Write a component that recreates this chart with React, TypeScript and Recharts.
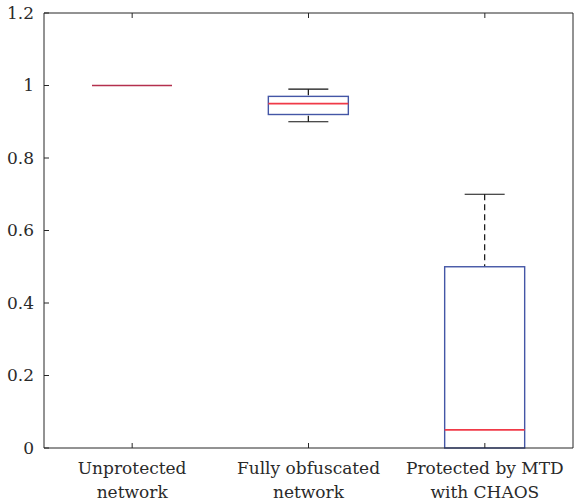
import { ComposedChart, Bar, XAxis, YAxis } from "recharts";

const categories = ["Unprotected\nnetwork", "Fully obfuscated\nnetwork", "Protected by MTD\nwith CHAOS"];
const minValues = [1, 0.9, 0];
const q1Values = [1, 0.92, 0];
const medianValues = [1, 0.95, 0.05];
const q3Values = [1, 0.97, 0.5];
const maxValues = [1, 0.99, 0.7];
const yTicks = [0, 0.2, 0.4, 0.6, 0.8, 1, 1.2];

const FONT = "'DejaVu Serif', serif";
const AXIS = "#262626";
const BLUE = "#4456a6";
const RED = "#f03a48";

const data = categories.map((name, i) => ({
  name,
  min: minValues[i],
  q1: q1Values[i],
  median: medianValues[i],
  q3: q3Values[i],
  max: maxValues[i],
  range: [minValues[i], maxValues[i]],
}));

const textStyle = { fontFamily: FONT, fontSize: 17, fill: "#2a2a2a" };

function BoxShape(props: any) {
  const { x, y, width, height, payload } = props;
  const top = Math.min(y, y + height);
  const h = Math.abs(height);
  const span = payload.max - payload.min;
  const toPx = (v: number) => (span > 0 ? top + ((payload.max - v) / span) * h : top);
  const cx = x + width / 2;
  const capHalf = width / 4;

  if (span === 0) {
    // all values equal: box collapses onto the median
    return (
      <g>
        <line x1={x} x2={x + width} y1={top} y2={top} stroke="#b4304e" strokeWidth={1.6} />
      </g>
    );
  }

  const yMax = toPx(payload.max);
  const yQ3 = toPx(payload.q3);
  const yMed = toPx(payload.median);
  const yQ1 = toPx(payload.q1);
  const yMin = toPx(payload.min);

  return (
    <g>
      {yQ3 - yMax > 0 && (
        <line x1={cx} x2={cx} y1={yMax} y2={yQ3} stroke="#111" strokeWidth={1.2} strokeDasharray="6 4" />
      )}
      {yMin - yQ1 > 0 && (
        <line x1={cx} x2={cx} y1={yMin} y2={yQ1} stroke="#111" strokeWidth={1.2} strokeDasharray="6 4" />
      )}
      <line x1={cx - capHalf} x2={cx + capHalf} y1={yMax} y2={yMax} stroke="#111" strokeWidth={1.2} />
      {yMin - yQ1 > 0 && (
        <line x1={cx - capHalf} x2={cx + capHalf} y1={yMin} y2={yMin} stroke="#111" strokeWidth={1.2} />
      )}
      <rect x={x} y={yQ3} width={width} height={yQ1 - yQ3} fill="none" stroke={BLUE} strokeWidth={1.4} />
      <line x1={x} x2={x + width} y1={yMed} y2={yMed} stroke={RED} strokeWidth={1.6} />
    </g>
  );
}

function LeftTick({ x, y, payload }: any) {
  const v = payload.value;
  const label = v === 0 || Number.isInteger(v) ? String(v) : v.toFixed(1);
  return (
    <g>
      <line x1={x} x2={x + 5} y1={y} y2={y} stroke={AXIS} />
      <text x={x - 10} y={y} dy="0.35em" textAnchor="end" style={textStyle}>
        {label}
      </text>
    </g>
  );
}

function RightTick({ x, y }: any) {
  return <line x1={x} x2={x - 5} y1={y} y2={y} stroke={AXIS} />;
}

function BottomTick({ x, y, payload }: any) {
  const lines = String(payload.value).split("\n");
  return (
    <g>
      <line x1={x} x2={x} y1={y} y2={y - 5} stroke={AXIS} />
      {lines.map((line, i) => (
        <text key={i} x={x} y={y + 26 + i * 24} textAnchor="middle" style={textStyle}>
          {line}
        </text>
      ))}
    </g>
  );
}

function TopTick({ x, y }: any) {
  return <line x1={x} x2={x} y1={y} y2={y + 5} stroke={AXIS} />;
}

export default function App() {
  return (
    <div style={{ position: "absolute", left: 0, top: 0, background: "#fff" }}>
      <ComposedChart width={575} height={504} data={data} margin={{ top: 0, right: 0, bottom: 0, left: 0 }}>
        <XAxis
          dataKey="name"
          height={56}
          tickSize={0}
          tickMargin={0}
          axisLine={{ stroke: AXIS }}
          tickLine={false}
          tick={<BottomTick />}
          interval={0}
        />
        <XAxis
          xAxisId="top"
          dataKey="name"
          orientation="top"
          height={13}
          tickSize={0}
          tickMargin={0}
          axisLine={{ stroke: AXIS }}
          tickLine={false}
          tick={<TopTick />}
          interval={0}
        />
        <YAxis
          domain={[0, 1.2]}
          ticks={yTicks}
          width={44}
          tickSize={0}
          tickMargin={0}
          axisLine={{ stroke: AXIS }}
          tickLine={false}
          tick={<LeftTick />}
          interval={0}
        />
        <YAxis
          yAxisId="right"
          orientation="right"
          domain={[0, 1.2]}
          ticks={yTicks}
          width={2}
          tickSize={0}
          tickMargin={0}
          axisLine={{ stroke: AXIS }}
          tickLine={false}
          tick={<RightTick />}
          interval={0}
        />
        <Bar dataKey="range" barSize={80} shape={<BoxShape />} isAnimationActive={false} />
      </ComposedChart>
    </div>
  );
}
